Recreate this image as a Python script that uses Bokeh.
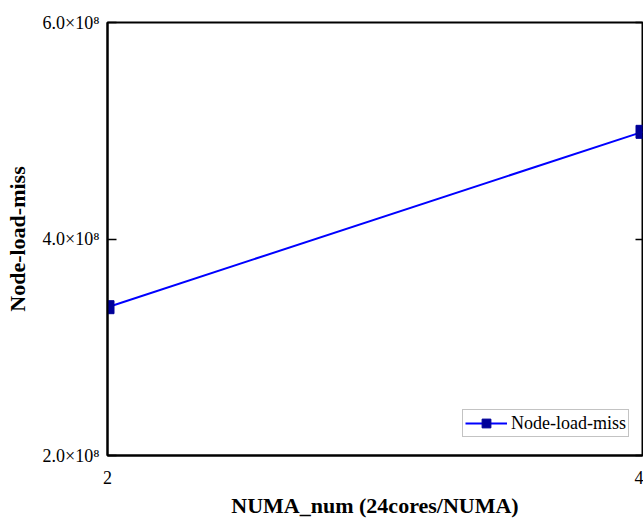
from bokeh.plotting import figure
from bokeh.models import LinearAxis, FixedTicker, Range1d, Legend, LegendItem, CustomLabelingPolicy
from bokeh.embed import file_html
from bokeh.resources import INLINE

# data
numa_num = [2, 4]
node_load_miss = [3.37e8, 4.99e8]
y_ticks = [2e8, 4e8, 6e8]
y_tick_labels = ["2.0×10⁸", "4.0×10⁸", "6.0×10⁸"]
x_ticks = [2, 4]
series_name = "Node-load-miss"

FONT = "Liberation Serif"

p = figure(width=643, height=520, output_backend="svg", toolbar_location=None,
           x_range=Range1d(2, 4), y_range=Range1d(2e8, 6e8),
           min_border_left=107, min_border_right=1, min_border_top=22, min_border_bottom=65)
p.grid.visible = False
p.outline_line_color = "black"
p.outline_line_width = 2
p.background_fill_color = "white"
p.border_fill_color = "white"

# x axis
xa = p.xaxis[0]
xa.ticker = FixedTicker(ticks=x_ticks)
xa.minor_tick_line_color = None
xa.major_tick_line_color = None
xa.axis_line_width = 2
xa.major_label_text_font = FONT
xa.major_label_text_font_size = "18px"
xa.major_label_text_color = "black"
xa.major_label_standoff = 9
xa.axis_label = "NUMA_num (24cores/NUMA)"
xa.axis_label_text_font = FONT
xa.axis_label_text_font_style = "bold"
xa.axis_label_text_font_size = "22px"
xa.axis_label_text_color = "black"
xa.axis_label_standoff = 6

# y axis
ya = p.yaxis[0]
ya.ticker = FixedTicker(ticks=y_ticks)
ya.major_label_overrides = {t: l for t, l in zip(y_ticks, y_tick_labels)}
ya.minor_tick_line_color = None
ya.major_tick_in = 9
ya.major_tick_out = 0
ya.major_tick_line_width = 1.5
ya.axis_line_width = 2
ya.major_label_text_font = FONT
ya.major_label_text_font_size = "18px"
ya.major_label_text_color = "black"
ya.major_label_standoff = 8
ya.axis_label = series_name
ya.axis_label_text_font = FONT
ya.axis_label_text_font_style = "bold"
ya.axis_label_text_font_size = "22px"
ya.axis_label_text_color = "black"
ya.axis_label_standoff = 10

# right axis with inward ticks only, no labels
ra = LinearAxis(ticker=FixedTicker(ticks=y_ticks))
ra.major_tick_in = 7
ra.major_tick_out = 0
ra.major_tick_line_width = 1.5
ra.minor_tick_line_color = None
ra.major_label_standoff = 0
ra.major_label_overrides = {t: "" for t in y_ticks}
ra.major_label_policy = CustomLabelingPolicy(code="return new Set()")
ra.axis_line_color = None
p.add_layout(ra, "right")

ln = p.line(numa_num, node_load_miss, line_color="#0000FF", line_width=2)
mk = p.scatter(numa_num, node_load_miss, marker="square", size=13,
               fill_color="#000099", line_color="#000099")

legend = Legend(items=[LegendItem(label=series_name, renderers=[ln, mk])],
                location=(355, 18))
legend.label_text_font = FONT
legend.label_text_font_size = "18px"
legend.label_text_color = "black"
legend.border_line_color = "#888888"
legend.border_line_width = 1
legend.glyph_width = 42
legend.glyph_height = 22
legend.padding = 2
legend.spacing = 0
legend.margin = 0
legend.label_standoff = 4
legend.label_height = 18
p.add_layout(legend, "center")

open("out.html", "w").write(file_html(p, INLINE))
